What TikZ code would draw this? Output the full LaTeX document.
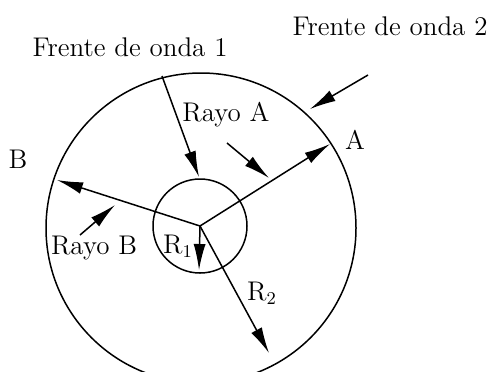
\documentclass[tikz,border=0pt]{standalone}
\usetikzlibrary{arrows.meta}
\begin{document}
\begin{tikzpicture}[x=0.5pt,y=-0.5pt,
    rayArr/.style={-{Latex[length=13pt,width=6pt]},line width=0.75pt},
    lblTxt/.style={font=\fontsize{13.5}{16}\selectfont,inner sep=0pt},
]
\useasboundingbox (0,0) rectangle (491,371);
\coordinate (O) at (200,226);
% Outer and inner circles
\draw[line width=0.75pt] (201,228) circle[radius=77.5pt];
\draw[line width=0.75pt] (O) circle[radius=23.5pt];
% Ray end points
\coordinate (Aend) at (330,144);
\coordinate (Bend) at (57,180);
\coordinate (R1end) at (199,270);
\coordinate (R2end) at (269,353);
% Wavefront 1, from the outer circle to the inner one
\coordinate (W1a) at (162,76);
\coordinate (W1b) at (199,177);
% Labels
\node[lblTxt] (F1) at (130,47) {Frente de onda 1};
\node[lblTxt] (F2) at (390,26) {Frente de onda 2};
\node[lblTxt] (RA) at (226,115) {Rayo A};
\node[lblTxt] (LA) at (355,140) {A};
\node[lblTxt] (LB) at (18,159) {B};
\node[lblTxt] (RB) at (94,248) {Rayo B};
\node[lblTxt] (LR1) at (178,246) {R$_1$};
\node[lblTxt] (LR2) at (262,293) {R$_2$};
% Rays
\draw[rayArr] (O) -- (Aend);
\draw[rayArr] (O) -- (Bend);
\draw[rayArr] (O) -- (R1end);
\draw[rayArr] (O) -- (R2end);
\draw[rayArr] (W1a) -- (W1b);
% Pointers to the rays and the front
\coordinate (PA1) at (227,143);
\coordinate (PA2) at (269,178);
\coordinate (PB1) at (80,235);
\coordinate (PB2) at (115,205);
\coordinate (PF1) at (368,75);
\coordinate (PF2) at (310,109);
\draw[rayArr] (PA1) -- (PA2);
\draw[rayArr] (PB1) -- (PB2);
\draw[rayArr] (PF1) -- (PF2);
\end{tikzpicture}
\end{document}
